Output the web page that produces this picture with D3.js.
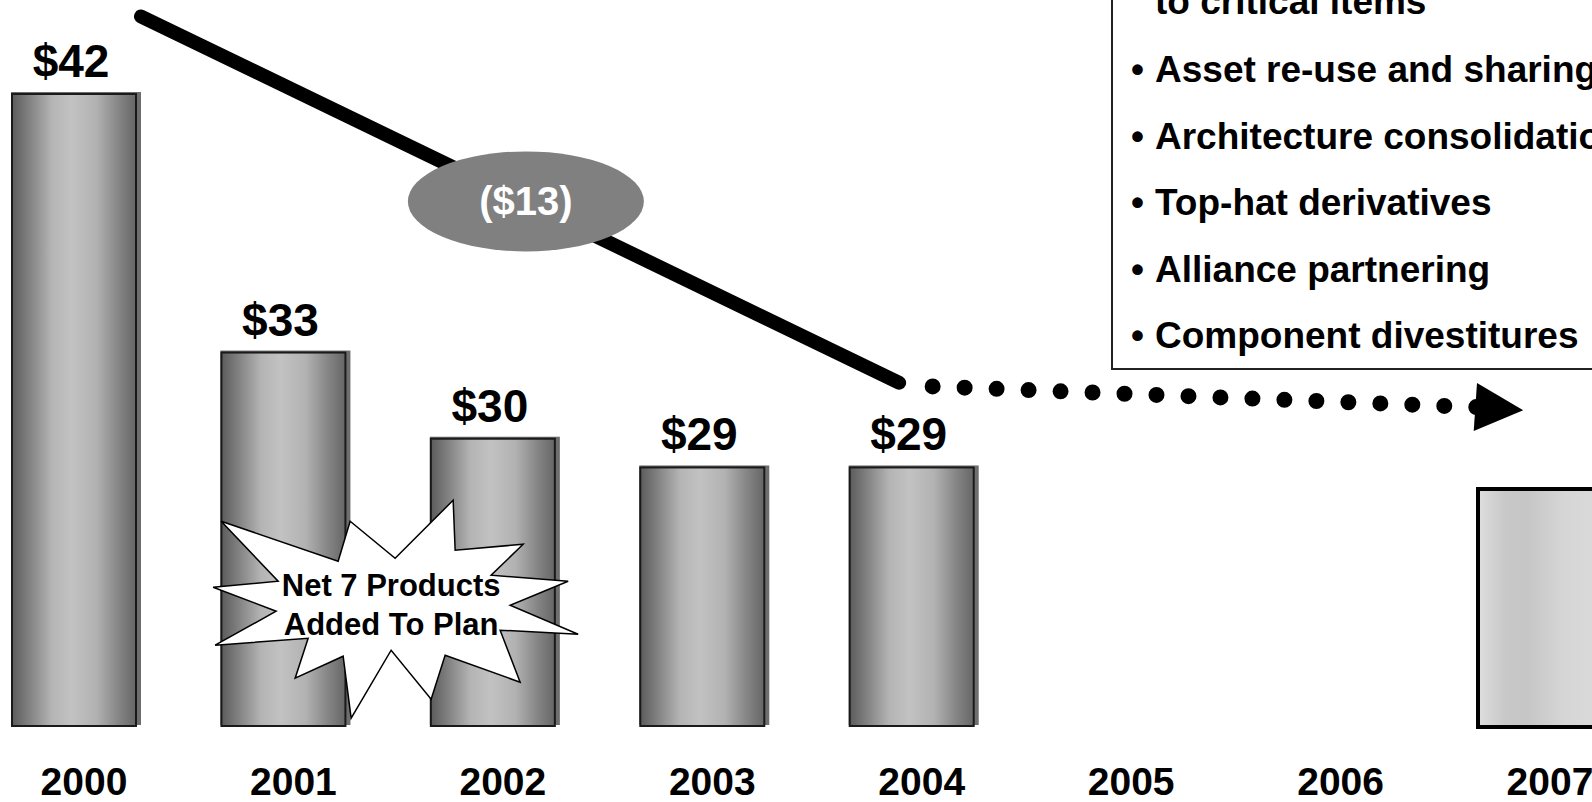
<!DOCTYPE html>
<meta charset="utf-8">
<head lang="en">
    <title>Cost trend</title>
    <script type="text/javascript" src="https://cdn.jsdelivr.net/npm/d3@7"></script>
    <style type="text/css">
        body {
            margin: 0;
            background: #fff;
        }
        svg text {
            font-family: "Liberation Sans", Arial, sans-serif;
            font-weight: bold;
        }
        .trend {
            fill: none;
            stroke: #000;
            stroke-width: 14;
            stroke-linecap: round;
        }
        .dots {
            fill: none;
            stroke: #000;
            stroke-width: 16;
            stroke-linecap: round;
            stroke-dasharray: 0 32;
        }
    </style>
</head>

<body>
<script type="text/javascript">

    // ---- data ----
    var years = [2000, 2001, 2002, 2003, 2004, 2005, 2006, 2007];
    var barYears = [2000, 2001, 2002, 2003, 2004];
    var barValues = [42, 33, 30, 29, 29];
    var barLabels = ["$42", "$33", "$30", "$29", "$29"];
    var targetYear = 2007;
    var targetValue = 28.25;

    // trend annotation (data units: year, $)
    var trendStart = [2000.32, 44.7];
    var trendEnd = [2003.94, 31.95];
    var trendLabel = "($13)";
    var dotsStart = [2004.10, 31.82];
    var dotsEnd = [2006.70, 31.1];
    var arrowTip = [2006.92, 30.99];

    var burstAt = [2001.5, 24.1];
    var burstLines = ["Net 7 Products", "Added To Plan"];
    // starburst outline, offsets from its centre
    var burstShape = [[-167,-87],[-50,-47],[-38,-87],[7,-50],[65,-108],[67,-58],[135,-64],[103,-33],
        [180,-27],[122,-3],[190,26],[112,22],[132,74],[57,47],[43,91],[3,42],[-37,110],[-45,48],
        [-93,70],[-80,30],[-173,37],[-112,3],[-175,-21],[-110,-27]];

    var boxTopLine = "to critical items";
    var boxItems = ["Asset re-use and sharing", "Architecture consolidation", "Top-hat derivatives",
        "Alliance partnering", "Component divestitures"];

    var width = 1592;
    var height = 802;
    var barWidth = 124;

    var svg = d3.select("body")
        .append("svg")
        .attr("width", width)
        .attr("height", height);

    var x = d3.scaleLinear()
        .domain([2000, 2007])
        .range([74, 1540]);
    var y = d3.scaleLinear()
        .domain([20, 42])
        .range([726, 94]);

    // gradients for the cylinders
    var defs = svg.append("defs");
    var g1 = defs.append("linearGradient").attr("id", "barGrad");
    [["0%", "#5c5c5c"], ["12%", "#7c7c7c"], ["32%", "#b4b4b4"], ["48%", "#c2c2c2"],
        ["68%", "#b2b2b2"], ["86%", "#858585"], ["100%", "#666"]].forEach(function (s) {
        g1.append("stop").attr("offset", s[0]).attr("stop-color", s[1]);
    });
    var g2 = defs.append("linearGradient").attr("id", "targetGrad");
    [["0%", "#dedede"], ["22%", "#c8c8c8"], ["40%", "#c6c6c6"], ["70%", "#d6d6d6"],
        ["100%", "#dadada"]].forEach(function (s) {
        g2.append("stop").attr("offset", s[0]).attr("stop-color", s[1]);
    });

    var bars = barYears.map(function (yr, i) {
        return {year: yr, value: barValues[i], label: barLabels[i]};
    });

    // shadow behind each bar
    svg.selectAll(".shadow")
        .data(bars)
        .enter()
        .append("rect")
        .attr("class", "shadow")
        .attr("x", function (d) { return x(d.year) - barWidth / 2 - 1; })
        .attr("y", function (d) { return y(d.value) - 2; })
        .attr("width", barWidth + 6)
        .attr("height", function (d) { return y.range()[0] - y(d.value) + 1; })
        .style("fill", "#6e6e6e");

    svg.selectAll(".bar")
        .data(bars)
        .enter()
        .append("rect")
        .attr("class", "bar")
        .attr("x", function (d) { return x(d.year) - barWidth / 2; })
        .attr("y", function (d) { return y(d.value); })
        .attr("width", barWidth)
        .attr("height", function (d) { return y.range()[0] - y(d.value); })
        .style("fill", "url(#barGrad)")
        .style("stroke", "#1a1a1a")
        .style("stroke-width", 2);

    // target bar (2007)
    svg.append("rect")
        .attr("x", x(targetYear) - barWidth / 2)
        .attr("y", y(targetValue))
        .attr("width", barWidth)
        .attr("height", y.range()[0] + 1 - y(targetValue))
        .style("fill", "url(#targetGrad)")
        .style("stroke", "#000")
        .style("stroke-width", 4);

    // value labels
    svg.selectAll(".val")
        .data(bars)
        .enter()
        .append("text")
        .attr("class", "val")
        .attr("x", function (d) { return x(d.year) - 3; })
        .attr("y", function (d) { return y(d.value) - 17; })
        .attr("text-anchor", "middle")
        .attr("font-size", "46px")
        .text(function (d) { return d.label; });

    // year labels
    svg.selectAll(".year")
        .data(years)
        .enter()
        .append("text")
        .attr("class", "year")
        .attr("x", function (d) { return x(d) + 10; })
        .attr("y", 795)
        .attr("text-anchor", "middle")
        .attr("font-size", "39px")
        .text(function (d) { return d; });

    // starburst callout
    var bx = x(burstAt[0]), by = y(burstAt[1]);
    svg.append("polygon")
        .attr("points", burstShape.map(function (p) {
            return (bx + p[0]) + "," + (by + p[1]);
        }).join(" "))
        .style("fill", "#fff")
        .style("stroke", "#000")
        .style("stroke-width", 1.5);
    svg.selectAll(".burst")
        .data(burstLines)
        .enter()
        .append("text")
        .attr("class", "burst")
        .attr("x", bx + 3)
        .attr("y", function (d, i) { return by - 12 + i * 39; })
        .attr("text-anchor", "middle")
        .attr("font-size", "31px")
        .text(function (d) { return d; });

    // trend line and its label
    var line = d3.line()
        .x(function (d) { return x(d[0]); })
        .y(function (d) { return y(d[1]); });
    svg.append("path")
        .attr("class", "trend")
        .attr("d", line([trendStart, trendEnd]));

    var t = 0.505;
    var ex = x(trendStart[0]) + t * (x(trendEnd[0]) - x(trendStart[0]));
    var ey = y(trendStart[1]) + t * (y(trendEnd[1]) - y(trendStart[1]));
    svg.append("ellipse")
        .attr("cx", ex + 2)
        .attr("cy", ey)
        .attr("rx", 118)
        .attr("ry", 50)
        .style("fill", "#808080");
    svg.append("text")
        .attr("x", ex + 2)
        .attr("y", ey + 14)
        .attr("text-anchor", "middle")
        .attr("font-size", "40px")
        .style("fill", "#fff")
        .text(trendLabel);

    // dotted projection with arrow head
    svg.append("path")
        .attr("class", "dots")
        .attr("d", line([dotsStart, dotsEnd]));

    var tx = x(arrowTip[0]), ty = y(arrowTip[1]);
    var dx = tx - x(dotsEnd[0]), dy = ty - y(dotsEnd[1]);
    var len = Math.sqrt(dx * dx + dy * dy);
    var ux = dx / len, uy = dy / len;
    var baseX = tx - 48 * ux, baseY = ty - 48 * uy;
    svg.append("polygon")
        .attr("points", [
            [tx, ty],
            [baseX - 24 * uy, baseY + 24 * ux],
            [baseX + 24 * uy, baseY - 24 * ux]
        ].map(function (p) { return p.join(","); }).join(" "))
        .style("fill", "#000");

    // text box on the right
    svg.append("rect")
        .attr("x", 1112)
        .attr("y", -20)
        .attr("width", 520)
        .attr("height", 389)
        .style("fill", "#fff")
        .style("stroke", "#222")
        .style("stroke-width", 2);

    svg.append("text")
        .attr("x", 1155)
        .attr("y", 14)
        .attr("font-size", "37px")
        .text(boxTopLine);

    var items = svg.selectAll(".item")
        .data(boxItems)
        .enter()
        .append("g")
        .attr("class", "item")
        .attr("transform", function (d, i) {
            return "translate(0," + (82 + i * 66.6) + ")";
        });
    items.append("text")
        .attr("x", 1131)
        .attr("font-size", "37px")
        .text("\u2022");
    items.append("text")
        .attr("x", 1155)
        .attr("font-size", "37px")
        .text(function (d) { return d; });

</script>
</body>
